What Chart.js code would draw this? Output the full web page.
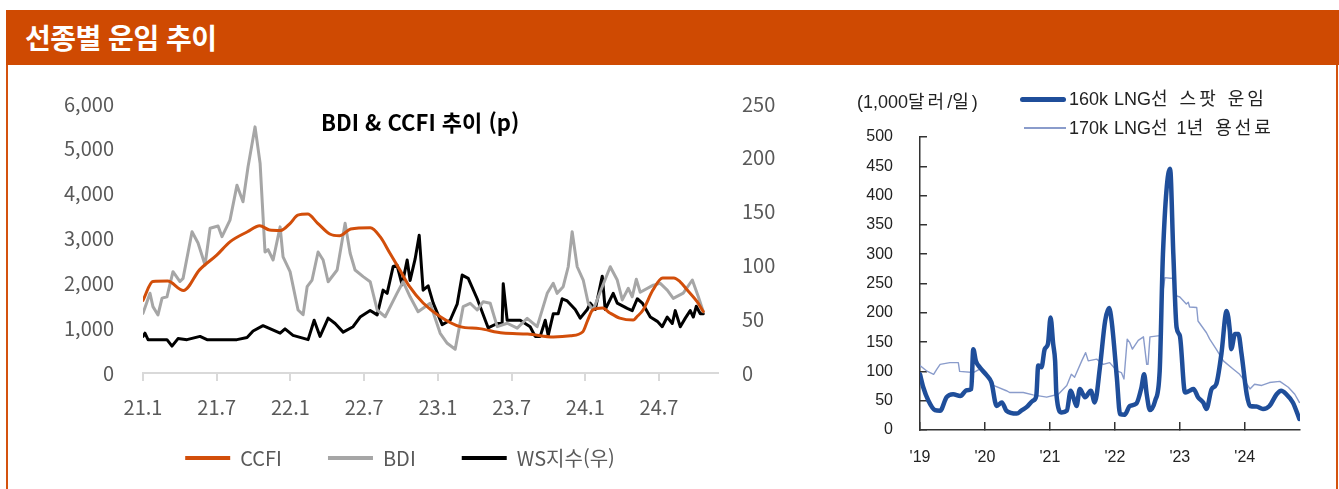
<!DOCTYPE html>
<html lang="ko">
<head>
<meta charset="utf-8">
<title>선종별 운임 추이</title>
<script src="https://cdn.jsdelivr.net/npm/chart.js@4.4.1/dist/chart.umd.min.js"></script>
<style>
  body {
    margin: 0;
    width: 1339px;
    height: 489px;
    overflow: hidden;
    position: relative;
    background: #fff;
    font-family: "Noto Sans CJK KR", sans-serif;
  }
  .header {
    position: absolute; left: 6px; top: 10px; width: 1333px; height: 55px;
    background: #CF4A02; color: #fff; font-weight: 700; font-size: 28px;
    line-height: 55px; padding-left: 19px; box-sizing: border-box; letter-spacing: -0.5px;
  }
  .edge { position: absolute; top: 65px; width: 2px; height: 424px; background: #D4520E; }
  .inner-title {
    position: absolute; left: 321px; top: 107px; font-weight: 700; font-size: 22px;
    line-height: 28px; color: #000;
  }
  .lng-text {
    position: absolute; font-family: "Liberation Sans", "Noto Sans CJK KR", sans-serif;
    font-size: 18px; color: #222; line-height: 22px; white-space: nowrap; word-spacing: 1px;
  }
  .lng-text .k { letter-spacing: 3px; }
  .lng-swatch { position: absolute; }
</style>
</head>
<body>
  <div class="header">선종별 운임 추이</div>
  <div class="edge" style="left:6px"></div>
  <div class="edge" style="left:1336px"></div>

  <div id="left-holder" style="position:absolute; left:0px; top:63px; width:830px; height:415px;">
    <canvas id="freight"></canvas>
  </div>
  <div class="inner-title">BDI &amp; CCFI 추이 (p)</div>

  <div id="right-holder" style="position:absolute; left:845px; top:80px; width:480px; height:395px;">
    <canvas id="lng"></canvas>
  </div>
  <div class="lng-text" style="left:857px; top:91px;">(1,000<span class="k">달러</span>/<span class="k">일</span>)</div>
  <div class="lng-swatch" style="left:1020px; top:97px; width:46px; height:5px; background:#1F4E9A; border-radius:3px;"></div>
  <div class="lng-text" style="left:1069px; top:88px;">160k LNG<span class="k">선 스팟 운임</span></div>
  <div class="lng-swatch" style="left:1024px; top:127px; width:42px; height:1.5px; background:#8A9CCB;"></div>
  <div class="lng-text" style="left:1069px; top:117px;">170k LNG<span class="k">선</span> 1<span class="k">년 용선료</span></div>

<script>
  // left chart: months counted from Jan 2021
  var xTickLabels = ['21.1', '21.7', '22.1', '22.7', '23.1', '23.7', '24.1', '24.7'];
  var seriesNames = ['CCFI', 'BDI', 'WS지수(우)'];

  var ccfiMonths = [0, 0.8, 2.0, 3.3, 4.6, 6.0, 7.1, 8.5, 9.5, 10.3, 11.2, 12.0, 12.6, 13.4, 14.2, 15.2, 16.0, 16.9, 18.5, 19.3,
    20.1, 20.9, 21.7, 22.8, 24.2, 25.8, 27.4, 29.3, 31.3, 33.4, 34.8, 35.8, 36.2, 36.6, 37.4, 38.0, 38.8, 39.9, 40.2, 40.7,
    41.5, 42.3, 43.2, 43.7, 44.3, 45.1, 45.6];
  var ccfiValues = [1620, 2040, 2050, 1840, 2300, 2630, 2930, 3150, 3285, 3190, 3180, 3345, 3520, 3545, 3345, 3100, 3060, 3210, 3240, 3040,
    2670, 2300, 1925, 1560, 1255, 1035, 990, 890, 870, 805, 830, 920, 1180, 1405, 1450, 1340, 1225, 1180, 1255, 1405,
    1850, 2120, 2120, 2040, 1850, 1590, 1370];

  var bdiMonths = [0, 0.57, 0.81, 1.22, 1.55, 1.95, 2.44, 3.01, 3.26, 3.99, 4.48, 5.05, 5.46, 6.11, 6.43, 7.08, 7.65, 8.14, 8.55, 9.12,
    9.53, 9.93, 10.18, 10.59, 11.16, 11.4, 11.97, 12.62, 13.03, 13.36, 13.76, 14.25, 14.66, 15.07, 15.8, 16.45, 16.86, 17.26, 17.92, 18.49,
    19.06, 19.71, 20.68, 21.17, 21.74, 22.39, 23.37, 24.19, 24.76, 25.41, 26.06, 26.63, 27.2, 27.69, 28.26, 28.83, 29.64, 30.46, 31.27, 32.08,
    32.9, 33.39, 33.71, 34.2, 34.61, 34.93, 35.34, 35.83, 36.24, 36.64, 37.38, 38.03, 38.6, 39.01, 39.5, 39.82, 40.15, 40.47, 41.53, 42.1,
    42.67, 43.16, 43.97, 44.71, 45.2, 45.6];
  var bdiValues = [1330, 1780, 1480, 1295, 1670, 1700, 2260, 2040, 2110, 3150, 2900, 2410, 3230, 3280, 3040, 3410, 4190, 3820, 4600, 5490,
    4680, 2700, 2750, 2520, 3260, 2590, 2260, 1405, 1300, 1925, 2074, 2700, 2520, 2036, 2297, 3340, 2670, 2297, 2150, 2036,
    1405, 1255, 1780, 2036, 1700, 1367, 1555, 885, 662, 530, 1480, 1555, 1405, 1590, 1555, 1033, 1110, 1000, 1220, 1033,
    1777, 2000, 1777, 1925, 2370, 3150, 2370, 2074, 1555, 1405, 1925, 2370, 2074, 1630, 1890, 1700, 2090, 1800, 1960, 2000,
    1850, 1665, 1780, 2074, 1700, 1367];

  var wsMonths = [0, 0.16, 0.41, 1.95, 2.36, 2.85, 3.58, 4.64, 5.21, 7.65, 8.47, 8.96, 9.77, 11.16, 11.56, 12.21, 13.44, 13.93, 14.41, 15.07,
    15.64, 16.29, 17.1, 17.67, 18.49, 19.06, 19.54, 19.87, 20.36, 20.68, 21.09, 21.5, 21.74, 22.15, 22.48, 22.8, 23.21, 23.62, 24.35, 25,
    25.57, 25.98, 26.47, 27.2, 28.09, 28.83, 29.23, 29.32, 29.64, 30.7, 31.51, 31.92, 32.33, 32.74, 32.98, 33.39, 33.79, 34.12, 34.53, 35.18,
    35.59, 36.16, 36.4, 36.81, 37.38, 37.62, 38.27, 38.6, 39.41, 39.82, 40.23, 40.64, 41.29, 41.86, 42.26, 42.67, 43.08, 43.32, 43.73, 44.14,
    44.54, 44.79, 45.03, 45.36, 45.6];
  var wsValues = [34, 37, 31, 31, 25, 32, 31, 34, 31, 31, 33, 39, 44, 37, 41, 35, 31, 49, 34, 51,
    46, 38, 43, 52, 58, 54, 77, 74, 99, 100, 82, 105, 86, 106, 128, 77, 81, 65, 45, 49,
    64, 91, 88, 69, 42, 46, 46, 83, 49, 49, 43, 34, 34, 49, 35, 55, 55, 69, 67, 59,
    51, 59, 65, 59, 90, 59, 74, 65, 60, 58, 69, 65, 52, 48, 43, 52, 46, 58, 43, 51,
    58, 52, 62, 55, 55];

  // right chart: years counted from Jan 2019
  var lngNames = ['160k LNG선 스팟 운임', '170k LNG선 1년 용선료'];
  var spotYears = [0, 0.05, 0.13, 0.23, 0.31, 0.41, 0.51, 0.62, 0.72, 0.79, 0.82, 0.86, 0.92, 1.03, 1.10, 1.18, 1.26, 1.33, 1.49, 1.56,
    1.64, 1.74, 1.79, 1.82, 1.87, 1.92, 1.97, 2.01, 2.05, 2.08, 2.10, 2.18, 2.26, 2.32, 2.36, 2.41, 2.46, 2.54, 2.63, 2.69,
    2.77, 2.85, 2.91, 2.95, 3.03, 3.08, 3.15, 3.23, 3.33, 3.41, 3.45, 3.49, 3.54, 3.62, 3.69, 3.74, 3.85, 3.90, 3.95, 4.0,
    4.08, 4.15, 4.21, 4.28, 4.36, 4.41, 4.49, 4.56, 4.64, 4.72, 4.77, 4.79, 4.85, 4.90, 4.95, 5.03, 5.08, 5.18, 5.28, 5.38,
    5.49, 5.56, 5.64, 5.74, 5.84];
  var spotValues = [95, 73, 50, 34, 33, 56, 61, 58, 68, 70, 138, 118, 107, 93, 81, 41, 47, 33, 28, 33,
    39, 50, 58, 110, 107, 138, 147, 192, 147, 118, 61, 30, 33, 67, 56, 41, 70, 56, 67, 47,
    107, 186, 208, 186, 90, 27, 26, 41, 45, 73, 95, 61, 34, 50, 101, 300, 446, 300, 175, 161,
    64, 67, 70, 56, 47, 36, 70, 78, 130, 203, 169, 138, 164, 164, 130, 61, 41, 40, 36, 41,
    61, 67, 61, 47, 19];

  var charterYears = [0, 0.10, 0.21, 0.26, 0.31, 0.46, 0.59, 0.61, 0.82, 0.92, 1.05, 1.13, 1.33, 1.38, 1.59, 1.74, 1.95, 2.13, 2.26, 2.33,
    2.38, 2.49, 2.55, 2.59, 2.72, 2.82, 2.92, 3.03, 3.10, 3.14, 3.19, 3.23, 3.27, 3.36, 3.44, 3.49, 3.51, 3.54, 3.69, 3.72,
    3.77, 3.85, 3.90, 3.95, 4.0, 4.10, 4.13, 4.15, 4.26, 4.28, 4.41, 4.46, 4.56, 4.67, 4.82, 4.92, 5.0, 5.08, 5.15, 5.26,
    5.38, 5.54, 5.67, 5.77, 5.84];
  var charterValues = [110, 101, 95, 104, 112, 115, 115, 100, 98, 104, 93, 76, 67, 64, 64, 60, 56, 61, 76, 95,
    90, 118, 132, 118, 121, 112, 115, 101, 98, 87, 155, 149, 138, 153, 159, 112, 112, 159, 161, 220,
    260, 259, 259, 229, 227, 215, 218, 210, 209, 186, 166, 155, 138, 118, 104, 95, 84, 70, 78, 76,
    81, 83, 73, 61, 47];

  function toPoints(xs, ys) {
    return xs.map(function (x, i) { return { x: x, y: ys[i] }; });
  }

  var tickFont = { family: '"Noto Sans CJK KR", sans-serif', size: 20 };
  var lngFont = { family: '"Liberation Sans", Arial, sans-serif', size: 16 };

  var freightConfig = {
    type: 'line',
    data: {
      datasets: [{
        label: seriesNames[0],
        data: toPoints(ccfiMonths, ccfiValues),
        borderColor: '#D24E0A',
        backgroundColor: '#D24E0A',
        borderWidth: 3,
        cubicInterpolationMode: 'monotone',
        yAxisID: 'y'
      }, {
        label: seriesNames[1],
        data: toPoints(bdiMonths, bdiValues),
        borderColor: '#A6A6A6',
        backgroundColor: '#A6A6A6',
        borderWidth: 3,
        yAxisID: 'y'
      }, {
        label: seriesNames[2],
        data: toPoints(wsMonths, wsValues),
        borderColor: '#000000',
        backgroundColor: '#000000',
        borderWidth: 3,
        yAxisID: 'y1'
      }]
    },
    options: {
      responsive: true,
      maintainAspectRatio: false,
      animation: false,
      layout: { padding: { top: 16, left: 0, right: 30, bottom: 0 } },
      elements: { point: { radius: 0 }, line: { borderJoinStyle: 'round', borderCapStyle: 'round' } },
      scales: {
        x: {
          type: 'linear',
          min: 0,
          max: 46.8,
          // legend padding is large, so the axis box is kept short and its labels are not clipped to it
          afterFit: function (scale) {
            scale.height = 29;
            scale._computeLabelArea = function () {};
          },
          grid: { drawOnChartArea: false, drawTicks: true, tickLength: 8, color: '#D9D9D9', lineWidth: 2 },
          border: { color: '#D9D9D9', width: 2 },
          ticks: {
            stepSize: 6,
            includeBounds: false,
            autoSkip: false,
            maxRotation: 0,
            padding: 14,
            color: '#595959',
            font: tickFont,
            callback: function (v) {
              var i = v / 6;
              return Number.isInteger(i) && xTickLabels[i] ? xTickLabels[i] : '';
            }
          }
        },
        y: {
          position: 'left',
          min: 0,
          max: 6000,
          afterFit: function (scale) { scale.width = 143; },
          grid: { display: false, drawTicks: false },
          border: { display: false },
          ticks: {
            stepSize: 1000,
            padding: 29,
            color: '#595959',
            font: tickFont,
            callback: function (v) { return v.toLocaleString('en-US'); }
          }
        },
        y1: {
          position: 'right',
          min: 0,
          max: 250,
          afterFit: function (scale) { scale.width = 82; },
          grid: { display: false, drawTicks: false },
          border: { display: false },
          ticks: { stepSize: 50, padding: 24, color: '#595959', font: tickFont }
        }
      },
      plugins: {
        tooltip: { enabled: false },
        legend: {
          position: 'bottom',
          labels: {
            boxWidth: 45,
            boxHeight: 4,
            padding: 46,
            color: '#595959',
            font: tickFont,
            generateLabels: function (chart) {
              var items = Chart.defaults.plugins.legend.labels.generateLabels(chart);
              items.forEach(function (it) { it.lineWidth = 0; });
              return items;
            }
          }
        }
      }
    }
  };

  var lngConfig = {
    type: 'line',
    data: {
      datasets: [{
        label: lngNames[0],
        data: toPoints(spotYears, spotValues),
        borderColor: '#1F4E9A',
        borderWidth: 4.5,
        cubicInterpolationMode: 'monotone'
      }, {
        label: lngNames[1],
        data: toPoints(charterYears, charterValues),
        borderColor: '#8A9CCB',
        borderWidth: 1.4
      }]
    },
    options: {
      responsive: true,
      maintainAspectRatio: false,
      animation: false,
      layout: { padding: { top: 57, left: 0, right: 25, bottom: 0 } },
      elements: { point: { radius: 0 }, line: { borderJoinStyle: 'round', borderCapStyle: 'round' } },
      scales: {
        x: {
          type: 'linear',
          min: 0,
          max: 5.85,
          afterFit: function (scale) { scale.height = 45; },
          grid: { drawOnChartArea: false, drawTicks: true, tickLength: -8, color: '#333', lineWidth: 1.5 },
          border: { color: '#333', width: 1.5 },
          ticks: {
            stepSize: 1,
            includeBounds: false,
            autoSkip: false,
            maxRotation: 0,
            padding: 26,
            color: '#222',
            font: lngFont,
            callback: function (v) { return Number.isInteger(v) ? "'" + (19 + v) : ''; }
          }
        },
        y: {
          min: 0,
          max: 500,
          afterFit: function (scale) { scale.width = 75; },
          grid: { drawOnChartArea: false, drawTicks: true, tickLength: -7, color: '#333', lineWidth: 1.5 },
          border: { color: '#333', width: 1.5 },
          ticks: { stepSize: 50, padding: 34, color: '#222', font: lngFont }
        }
      },
      plugins: {
        tooltip: { enabled: false },
        legend: { display: false }
      }
    }
  };

  window.onload = function () {
    window.freightChart = new Chart(document.getElementById('freight').getContext('2d'), freightConfig);
    window.lngChart = new Chart(document.getElementById('lng').getContext('2d'), lngConfig);
  };
</script>
</body>
</html>
